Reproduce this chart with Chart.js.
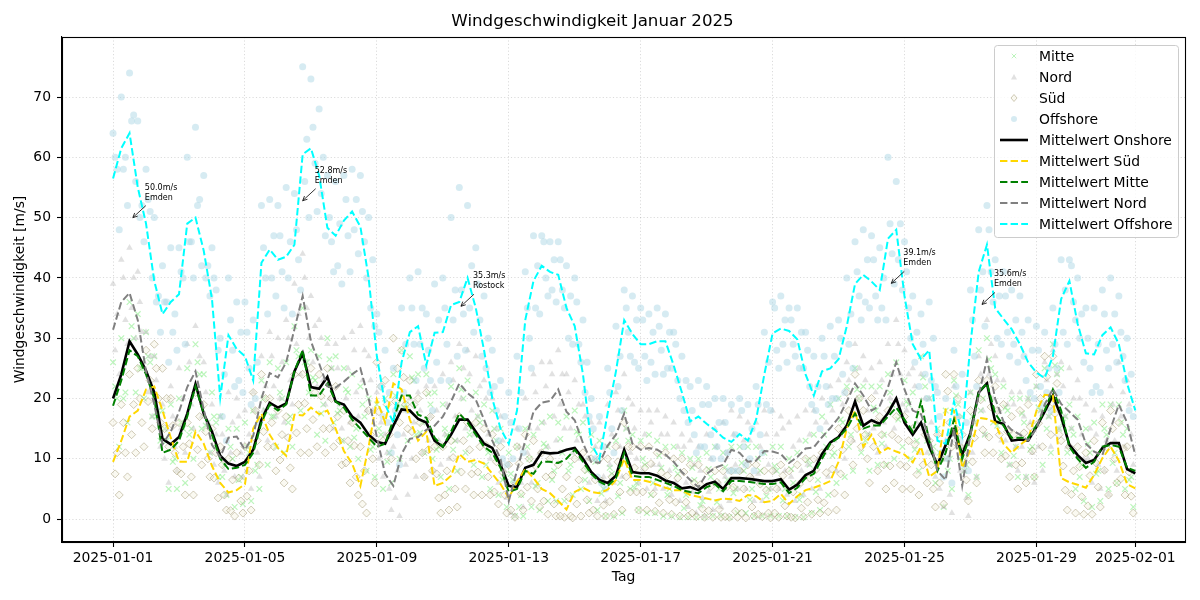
<!DOCTYPE html>
<html>
<head>
<meta charset="utf-8">
<script src="https://cdn.jsdelivr.net/npm/chart.js@4.4.1/dist/chart.umd.min.js"></script>
<style>
html,body{margin:0;padding:0;background:#fff;}
#wrap{width:1200px;height:600px;}
</style>
</head>
<body>
<div id="wrap"><canvas id="c" width="1200" height="600"></canvas></div>
<script>
// ---- data (6-hour steps starting 2025-01-01 00:00) ----
const stepHours = 6;
const tickDays = [0, 4, 8, 12, 16, 20, 24, 28, 31];
const tickLabels = ['2025-01-01','2025-01-05','2025-01-09','2025-01-13','2025-01-17','2025-01-21','2025-01-25','2025-01-29','2025-02-01'];

const meanOnshore = [20,24,29.5,27.3, 24.6,21,13.3,12.4, 13.6,17.5,22.4,17.5, 14.5,10.5,9.2,8.8, 9.5,11.5,16.5,19.3, 18.5,19.2,24.5,27.5, 21.9,21.6,23.6,19.5, 19,17,16,14, 12.8,12.5,15.5,18.2, 18,16.6,16,13, 12,14,16.5,16.5, 14.5,12.5,11.8,9, 5.5,5.3,8.5,9, 11.1,10.9,11,11.5, 11.8,10,7.8,6.5, 6,7.2,11.5,7.8, 7.6,7.6,7.2,6.4, 6,5.1,5.3,4.8, 5.8,6.2,5,6.8, 6.8,6.7,6.5,6.3, 6.3,6.6,4.9,5.7, 7.3,8,10.8,12.7, 13.6,15.5,19.5,15.5, 16.4,15.8,17.6,20, 16,14,16,12, 9,12.3,14.8,10.7, 14.3,21,22.5,16.2, 15.8,13,13.2,13, 15.3,17.8,20.5,17, 12.3,10.6,9.3,9.8, 11.8,12.6,12.6,8.3, 7.6];
const meanSued = [9.5,13,17,18, 21.5,22,18,13.5, 9.5,9.5,14.5,12.5, 8.8,6,4.4,4.8, 5.8,15,17.5,14, 11.8,10.5,17.3,17.2, 18.5,17.4,18,15, 11.3,9.2,5.5,12, 19.8,16,22.5,21.5, 16.5,13,14.5,5.5, 6,7.2,10.8,9.5, 9.8,9.2,7.5,5.8, 3.5,6.2,8.3,6.8, 5,4.3,3,1.6, 4.5,5.2,4.5,4.3, 4.9,6.5,10,6.5, 6.5,6.2,5.7,5.2, 4.8,4.8,4,3.7, 3.4,3.1,3.4,3.3, 3,4,3.8,2.8, 3,4.2,2.5,3.8, 4.8,5.2,5.7,6.3, 9.5,15,18,12, 14,11,11.8,11.2, 10.7,9.4,12,7, 8,18.2,18,8.5, 11.5,16.8,16.6,16, 12.5,11,12.3,13.3, 17.9,20.6,20.5,6.8, 6.1,5.7,5.2,7.3, 10.1,12,9.7,5.8, 5.1];
const meanMitte = [18.8,23,28,27, 24,20,11,11.5, 13,17,22,17.5, 14,10,8.3,8.5, 9,11,16,19, 18,19,24.5,28, 20.5,20.5,22.5,19.5, 18.5,16.5,15,13.5, 12,12.5,16.5,20.5, 20.5,17.3,16.8,13.5, 12,14.5,17.5,16, 14,12,11,8.5, 4.5,5,8,7.5, 9.5,9.5,9.3,10, 11.5,9.5,7.5,6.2, 5.5,6.8,11,7.2, 7,7,6.5,6, 5.5,4.8,4.5,4.3, 5.3,5.8,4.6,6.3, 6.3,6.2,6,5.8, 5.8,6.1,4.3,5.2, 6.8,7.5,10,12.5, 13.5,15,17.5,15, 15.5,15.5,17,18.5, 16.5,14.5,19.5,13, 8,11,16.5,10, 14,21,22.5,17.5, 15.5,13.5,13.5,13.5, 15.5,18,21.5,18, 12,10,8.5,9.5, 12,12.3,12,8.5, 8];
const meanNord = [31.4,36,37.5,33, 24.5,19,12.4,14.5, 17.8,21.9,24.5,18.2, 12.3,10.3,13.5,13.7, 11.5,13.8,20,24.2, 23.5,26,31.5,37, 29.5,25.8,22,21.8, 22.8,24,25,20, 13.6,7.5,5.5,10.8, 13.3,13.6,14.8,15.5, 17,19.5,22.5,20.9, 19.8,16.5,13,10, 3,8.1,13,17.8, 19.3,19.6,21.5,17.8, 16.4,12.6,9.5,9.3, 12.2,14,17.5,12.5, 11.5,11.8,11.5,10.7, 9.5,7.8,6.5,5.3, 7.5,8.5,9,11.5, 11,9.5,9.7,11.3, 11.2,10.8,9.3,10.3, 11.7,11.9,13.6,15.1, 16.8,19.5,22.5,20.5, 18,18.8,21.9,26, 21.5,18,17.4,13.5, 8,6.5,15,5.5, 14,20.5,26.5,20, 16.2,14.8,14,13, 15,19,21.6,19.1, 17.8,16.5,12.5,11.2, 10.6,15,19,16, 10.6];
const meanOffshore = [56.5,61.5,64,55, 49,39.5,34,36, 37.3,49,50,44.5, 36.5,20.1,30.5,28.2, 27,23,42.5,44.7, 43,43.5,45.5,60.5, 61.5,57,48.3,47, 49.5,51,48.5,40, 27,19,16,26, 31,32,25.5,30.9, 31,35.5,36,40, 35,28,20,15, 12.5,18,33,39.5, 42,41,40.5,35, 32,24,12.5,10, 17.6,24.5,33,30.7, 29,29,29.5,29.5, 25.5,21,16.2,17, 15.8,14.8,13.5,12.8, 14.1,13,16.5,24, 30.8,31.6,31.2,29.8, 24,20.5,24.5,25, 26.5,32,39,40.5, 39.4,38,46.5,48, 37,29,26.5,28, 13,12.5,19.5,14, 29,41,45.5,35, 33.2,31.5,29,26, 24.3,23.4,27,36.5, 39.5,32.4,27.5,27.3, 30.5,31.8,29,22.5, 18];

// individual station readings (four stations per region, same 6-hour steps)
const offshoreHigh = [64,70,74,66, 58,50,42,45, 45,60,65,57, 45,30,40,36, 36,33,52,53, 52,55,54,75, 73,68,57,56, 57,58,57,50, 34,28,25,35, 40,41,34,39, 40,50,55,52, 45,37,28,23, 21,27,41,47, 47,46,46,42, 40,33,20,17, 25,32,38,37, 35,34,35,34, 31,27,22,23, 22,20,20,19, 20,19,22,31, 36,37,35,35, 31,27,30,32, 33,40,46,48, 47,45,60,56, 46,37,34,36, 21,20,28,24, 38,48,52,43, 41,38,37,33, 32,31,35,43, 43,40,35,35, 38,40,37,30, 26];
const offshoreMid = [58,60,67,52, 51,37,36,34, 40,46,53,42, 38,24,28,31, 25,26,40,47, 41,46,43,63, 59,60,46,49, 47,53,46,43, 22,21,14,29, 29,35,23,33, 29,38,34,42, 33,30,18,17, 10,21,30,42, 40,43,38,37, 29,26,10,12, 15,27,31,33, 27,31,28,31, 23,23,14,19, 14,16,11,14, 12,15,14,26, 28,33,29,31, 22,22,22,27, 24,34,37,43, 37,40,44,49, 35,31,24,30, 11,14,17,16, 27,41,41,37, 31,33,27,28, 22,25,25,38, 36,34,25,29, 28,34,27,24, 16];
const offshoreLow = [48,52,56,46, 40,31,26,28, 29,40,42,37, 28,13,22,21, 19,16,34,37, 35,34,38,50, 51,47,41,39, 41,44,40,32, 17,11,9,18, 23,25,18,23, 23,27,28,31, 27,21,13,9, 6,11,25,34, 37,36,35,29, 26,17,7,5, 11,18,27,25, 23,24,24,25, 20,16,11,12, 10,10,8,8, 9,8,11,18, 25,26,27,25, 19,15,19,20, 21,25,33,35, 33,33,39,38, 30,22,20,22, 7,6,13,8, 22,32,36,29, 27,26,23,20, 19,18,21,29, 33,26,21,21, 25,26,23,17, 13];
const offshoreAlt = [60,58,66,50, 53,36,36,31, 41,46,52,40, 40,17,33,23, 31,20,45,40, 47,40,48,56, 65,54,50,42, 53,48,51,35, 31,16,18,21, 35,29,28,26, 35,33,38,35, 39,25,22,10, 16,15,35,35, 46,38,43,30, 36,21,15,6, 21,22,35,26, 33,26,32,25, 29,18,18,12, 19,12,16,8, 18,10,19,19, 35,29,33,25, 28,18,27,20, 30,29,41,36, 43,35,49,43, 41,26,29,23, 17,10,22,9, 33,38,48,30, 37,29,31,21, 28,21,29,31, 42,30,30,22, 34,29,31,18, 22];
const nordHigh = [39,43,45,41, 31,27,19,22, 25,29,32,26, 19,17,21,20, 18,21,27,31, 30,33,39,44, 37,33,29,29, 30,31,32,27, 21,14,12,18, 20,21,22,22, 24,26,29,28, 27,23,20,17, 9,15,20,24, 26,26,28,24, 23,19,16,16, 19,21,24,19, 18,18,18,17, 16,14,13,12, 14,15,16,18, 17,16,16,18, 18,17,16,17, 18,18,20,22, 23,26,29,27, 25,26,29,33, 28,25,24,20, 14,13,22,12, 21,27,33,27, 23,21,21,20, 22,26,28,26, 25,23,19,18, 17,22,26,23, 17];
const nordMid = [34,33,40,31, 27,17,15,12, 20,19,27,16, 14,8,16,11, 14,11,22,22, 26,23,34,35, 32,23,25,19, 25,21,28,18, 16,5,8,9, 16,11,17,13, 19,17,25,18, 22,14,15,8, 5,6,15,15, 22,17,24,15, 19,10,12,7, 14,12,20,10, 14,9,14,8, 12,6,9,3.5, 10,6,11,9, 13,7,12,9, 14,8,12,8, 14,10,16,13, 19,17,25,18, 21,16,24,24, 24,16,20,11, 10,4,17,3.5, 16,18,29,18, 19,12,17,11, 18,17,24,17, 20,14,15,9, 13,13,21,14, 13];
const nordLow = [24,29,30,26, 17,12,6,8, 11,15,17,11, 6,4,7,7, 5,7,13,17, 16,19,24,30, 22,19,15,15, 16,17,18,13, 7,1.5,0.5,4, 7,7,8,9, 10,13,15,14, 13,10,6,3.5, 0.5,2,6,11, 12,13,15,11, 10,6,3,3, 6,7,11,6, 5,5,5,4, 3,2,1,0.5, 1.5,2,3,5, 5,3,3,5, 5,4,3,4, 5,5,7,8, 10,13,16,14, 11,12,15,19, 15,11,11,7, 2,1,8,0.5, 7,14,20,13, 9,8,7,6, 8,12,15,12, 11,10,6,5, 4,8,12,9, 4];
const nordAlt = [28,40,35,36, 21,23,10,17, 15,26,22,21, 9,14,11,17, 8,18,18,27, 20,30,29,40, 26,30,20,25, 20,28,23,23, 10,11,3.5,14, 10,18,13,18, 14,23,20,24, 17,20,11,13, 1,12,11,21, 16,24,19,21, 13,17,7,12, 9,18,15,15, 8,16,9,14, 6,12,4.5,8, 4.5,12,7,14, 8,13,7.5,14, 8,15,7,13, 9,16,11,18, 14,23,20,23, 15,23,20,29, 18,22,15,16, 5,10,13,8, 11,24,24,23, 13,19,12,16, 12,23,19,22, 15,20,10,14, 8,19,17,19, 8];
const mitteHigh = [26,30,36,34, 31,27,18,19, 20,25,29,24, 21,17,15,15, 16,18,23,26, 25,26,32,35, 28,27,30,27, 25,24,22,20, 19,20,24,28, 27,24,24,21, 19,22,25,23, 21,19,18,15, 11,12,15,14, 16,17,16,17, 18,16,14,13, 12,13,18,14, 13,14,13,12, 12,11,10,10, 11,12,11,12, 12,12,12,11, 12,12,10,11, 13,14,17,19, 20,22,25,22, 22,22,24,26, 23,21,27,20, 15,18,23,17, 21,28,30,24, 22,20,20,20, 22,25,29,25, 19,17,15,16, 19,19,19,15, 14];
const mitteMid = [20,21,30,25, 26,18,13,10, 15,15,24,16, 16,9,10,7, 11,9,18,17, 20,17,27,26, 23,19,25,18, 21,15,17,12, 14,11,19,19, 23,16,19,12, 14,13,20,15, 16,11,13,7, 6.5,4,10,6, 12,8,11,9, 14,8,9.5,5, 7.5,6,13,6, 9,6,8.5,5, 7.5,4,6.5,3, 7,5,6.5,5, 8,5,8,5, 8,5,6,4, 9,6.5,12,11, 16,14,20,14, 18,14,19,17, 19,13,22,12, 10,10,19,9, 16,20,25,16, 18,12,16,12, 18,17,24,17, 14,9,11,8, 14,11,14,7, 10];
const mitteLow = [12,16,21,20, 17,13,5,5, 6,10,15,11, 7,4,2,2.5, 3,5,9,12, 11,12,18,21, 14,13,16,13, 12,10,8,7, 5,6,10,13, 14,11,10,7, 5,8,11,9, 7,5,4,2, 0.5,0.5,2,1.5, 3,3,3,4, 5,3,1.5,0.5, 0.5,1,5,1.5, 1,1,0.5,0.5, 0.3,0.3,0.3,0.3, 0.5,0.5,0.3,1, 1,0.5,0.5,0.5, 0.5,0.5,0.3,0.3, 1,1.5,4,6, 7,8,11,8, 9,9,10,12, 10,8,13,6, 2,5,10,4, 7,14,16,11, 9,7,7,7, 9,11,15,11, 5,3,2,3, 5,6,5,2, 2];
const mitteAlt = [22,20,32,25, 27,17,15,9.5, 16,14,26,15.5, 17,7,12,6.5, 12,8,20,17, 21,16,28,26, 23.5,17.5,26.5,17.5, 21.5,13.5,19,11.5, 15,9.5,20.5,18.5, 23.5,14.3,20.8,11.5, 15,11.5,21.5,14, 17,9,15,6.5, 7.5,2,12,5.5, 12.5,6.5,13.3,8, 14.5,6.5,11.5,4.2, 8.5,3.8,15,5.2, 10,4,10.5,4, 8.5,1.8,8.5,2.3, 8.3,2.8,8.6,4.3, 9.3,3.2,10,3.8, 8.8,3.1,8.3,3.2, 9.8,4.5,14,10.5, 16.5,12,21.5,13, 18.5,12.5,21,16.5, 19.5,11.5,23.5,11, 11,8,20.5,8, 17,18,26.5,15.5, 18.5,10.5,17.5,11.5, 18.5,15,25.5,16, 15,7,12.5,7.5, 15,9.3,16,6.5, 11];
const suedHigh = [16,19,24,25, 28,29,25,20, 16,16,21,19, 15,12,10,11, 12,21,24,20, 18,17,24,24, 25,24,25,22, 18,16,12,18, 26,23,30,28, 23,20,21,12, 12,13,17,16, 16,15,14,12, 9,12,14,13, 11,10,9,7, 10,11,10,10, 10,12,16,12, 12,12,11,11, 10,10,9,9, 8,8,8,8, 8,9,9,8, 8,9,8,9, 10,10,11,12, 15,21,24,18, 20,17,18,17, 17,15,18,13, 14,24,24,14, 18,23,23,22, 19,17,18,19, 24,27,27,13, 12,12,11,13, 16,18,16,12, 11];
const suedMid = [11,11,19,16, 23,20,20,11, 12,7,17,10, 11,4,6.5,3, 8,13,20,12, 14,8.5,19,15, 21,15,20,13, 13,7,8,10, 22,14,25,19, 19,11,17,3.5, 8,5,13,7.5, 12,7,9.5,4, 5.5,4.2,10,5, 7,2.5,5,0.5, 6.5,3.2,6.5,2.3, 7,4.5,12,4.5, 8.5,4.2,7.7,3.2, 6.8,2.8,6,1.7, 5.4,1.6,5.4,1.3, 5,2,5.8,1, 5,2.2,4.5,1.8, 6.8,3.2,7.7,4.3, 11.5,13,20,10, 16,9,14,9, 13,7.4,14,5, 10,16,20,6.5, 13.5,14.8,18.6,14, 14.5,9,14.3,11.3, 20,18.6,22.5,4.8, 8,3.7,7.2,5.3, 12,10,11.7,3.8, 6];
const suedLow = [4,7,11,12, 15,16,12,8, 4,4,9,7, 3.5,1.5,0.5,1, 1.5,9,12,8, 6,5,11,11, 12,11,12,9, 6,4,1,6, 13,10,16,15, 10,7,8,1, 1.5,2,5,4, 4,4,2.5,1, 0.3,1.5,3,2, 0.8,0.5,0.3,0.2, 0.5,1,0.5,0.5, 0.8,1.5,4.5,1.5, 1.5,1.3,1,0.8, 0.5,0.5,0.4,0.3, 0.3,0.3,0.3,0.3, 0.2,0.5,0.4,0.2, 0.3,0.5,0.2,0.4, 0.8,1,1.2,1.5, 4,9,12,6, 8,5,6,5, 5,4,6,2, 2.5,12,12,3, 6,11,11,10, 7,5,6,7, 12,14,14,1.5, 1,0.8,0.8,2, 4,6,4,1, 0.8];
const suedAlt = [7.5,16,14,20, 19.5,25,15,15.5, 7.5,12.5,11.5,14.5, 6.8,9,1.4,6.8, 3.8,18,14.5,16, 9.8,13.5,14.3,19.2, 16.5,20.4,15,17, 9.3,12.2,2.5,14, 17.8,19,19.5,23.5, 14.5,16,11.5,7.5, 4,10.2,7.8,11.5, 7.8,12.2,4.5,7.8, 1.5,9.2,5.3,8.8, 3,7.3,0.5,3.6, 2.5,8.2,1.5,6.3, 2.9,9.5,7,8.5, 4.5,9.2,2.7,7.2, 2.8,7.8,1,5.7, 1.4,6.1,0.4,5.3, 1,7,0.8,4.8, 1,7.2,0.3,5.8, 2.8,8.2,2.7,8.3, 7.5,18,15,14, 12,14,8.8,13.2, 8.7,12.4,9,9, 6,21.2,15,10.5, 9.5,19.8,13.6,18, 10.5,14,9.3,15.3, 15.9,23.6,17.5,8.8, 4.1,8.7,2.2,9.3, 8.1,15,6.7,7.8, 3.1];
const stationOffsetHours = [0, 3, 4.5, 1.5];

const annotDays = [0.6, 5.75, 10.55, 23.6, 26.35];
const annotValues = [50.0, 52.8, 35.3, 39.1, 35.6];
const annotStations = ['Emden', 'Emden', 'Rostock', 'Emden', 'Emden'];

// ---- build chart data from the arrays ----
const lastDay = 30.96;
function lineData(values) {
  return values.map((v, i) => ({x: i * stepHours / 24, y: v}));
}
function cloudData(rows) {
  const pts = [];
  rows.forEach((row, k) => row.forEach((v, i) => {
    const x = (i * stepHours + stationOffsetHours[k]) / 24;
    if (x <= lastDay) pts.push({x: x, y: v});
  }));
  return pts;
}
const dashPattern = [7.4, 3.2];

const datasets = [
  {label: 'Mitte', data: cloudData([mitteHigh, mitteMid, mitteLow, mitteAlt]), pointStyle: 'crossRot', pointRadius: 4,
   borderColor: 'rgba(144,238,144,0.6)', backgroundColor: 'rgba(144,238,144,0.6)', borderWidth: 1.2, order: 9},
  {label: 'Nord', data: cloudData([nordHigh, nordMid, nordLow, nordAlt]), pointStyle: 'triangle', pointRadius: 3.8,
   borderColor: 'rgba(195,195,195,0.5)', backgroundColor: 'rgba(195,195,195,0.5)', borderWidth: 0, order: 8},
  {label: 'Süd', data: cloudData([suedHigh, suedMid, suedLow, suedAlt]), pointStyle: 'rectRot', pointRadius: 4,
   borderColor: 'rgba(150,140,100,0.45)', backgroundColor: 'rgba(240,235,210,0.3)', borderWidth: 1, order: 7},
  {label: 'Offshore', data: cloudData([offshoreHigh, offshoreMid, offshoreLow, offshoreAlt]), pointStyle: 'circle', pointRadius: 3.5,
   borderColor: 'rgba(173,216,230,0.5)', backgroundColor: 'rgba(173,216,230,0.5)', borderWidth: 0, order: 6},
  {label: 'Mittelwert Onshore', data: lineData(meanOnshore), showLine: true, pointRadius: 0, borderColor: '#000000',
   borderWidth: 2.6, borderDash: [], order: 5},
  {label: 'Mittelwert Süd', data: lineData(meanSued), showLine: true, pointRadius: 0, borderColor: '#FFD700',
   borderWidth: 2, borderDash: dashPattern, order: 4},
  {label: 'Mittelwert Mitte', data: lineData(meanMitte), showLine: true, pointRadius: 0, borderColor: '#008000',
   borderWidth: 2, borderDash: dashPattern, order: 3},
  {label: 'Mittelwert Nord', data: lineData(meanNord), showLine: true, pointRadius: 0, borderColor: '#808080',
   borderWidth: 2, borderDash: dashPattern, order: 2},
  {label: 'Mittelwert Offshore', data: lineData(meanOffshore), showLine: true, pointRadius: 0, borderColor: '#00FFFF',
   borderWidth: 2, borderDash: dashPattern, order: 1}
];
datasets.forEach(d => { d.tension = 0; d.pointHoverRadius = 0; d.fill = false; });

const FONT = "'DejaVu Sans', 'Liberation Sans', sans-serif";
Chart.defaults.font.family = FONT;
Chart.defaults.color = '#000';

// frame + annotations
const framePlugin = {
  id: 'frame',
  afterDatasetsDraw(chart) {
    const {ctx, chartArea: a, scales: {x, y}} = chart;
    ctx.save();
    ctx.font = '8px ' + FONT;
    ctx.fillStyle = '#000';
    ctx.strokeStyle = '#000';
    ctx.lineWidth = 0.8;
    ctx.textBaseline = 'alphabetic';
    annotDays.forEach((d, i) => {
      const px = x.getPixelForValue(d), py = y.getPixelForValue(annotValues[i]);
      ctx.fillText(annotValues[i].toFixed(1) + 'm/s', px + 12, py - 28);
      ctx.fillText(annotStations[i], px + 12, py - 18);
      const sx = px + 13, sy = py - 12;
      ctx.beginPath(); ctx.moveTo(sx, sy); ctx.lineTo(px, py); ctx.stroke();
      const ang = Math.atan2(py - sy, px - sx), hl = 5;
      ctx.beginPath();
      ctx.moveTo(px - hl * Math.cos(ang - 0.45), py - hl * Math.sin(ang - 0.45));
      ctx.lineTo(px, py);
      ctx.lineTo(px - hl * Math.cos(ang + 0.45), py - hl * Math.sin(ang + 0.45));
      ctx.stroke();
    });
    ctx.strokeStyle = '#000';
    ctx.lineWidth = 1.1;
    ctx.strokeRect(Math.round(a.left) + 0.5, Math.round(a.top) + 0.5, Math.round(a.right - a.left), Math.round(a.bottom - a.top));
    ctx.restore();
  }
};

const legendPlugin = {
  id: 'mplLegend',
  afterDraw(chart) {
    const {ctx, chartArea: a} = chart;
    const w = 184, h = 192;
    const bx = Math.round(a.right - 7 - w), by = Math.round(a.top + 8);
    ctx.save();
    ctx.beginPath();
    ctx.roundRect(bx + 0.5, by + 0.5, w, h, 3);
    ctx.fillStyle = 'rgba(255,255,255,0.8)';
    ctx.fill();
    ctx.strokeStyle = '#cccccc';
    ctx.lineWidth = 1;
    ctx.stroke();
    chart.data.datasets.forEach((ds, i) => {
      const cy = by + 11 + i * 21;
      const mx = bx + 20;
      ctx.setLineDash([]);
      if (ds.showLine) {
        ctx.strokeStyle = ds.borderColor;
        ctx.lineWidth = ds.borderWidth;
        ctx.setLineDash(ds.borderDash || []);
        ctx.beginPath(); ctx.moveTo(bx + 6, cy); ctx.lineTo(bx + 34, cy); ctx.stroke();
        ctx.setLineDash([]);
      } else {
        ctx.fillStyle = ds.backgroundColor;
        ctx.strokeStyle = ds.borderColor;
        ctx.lineWidth = 1;
        const r = 3;
        ctx.beginPath();
        if (ds.pointStyle === 'crossRot') {
          ctx.moveTo(mx - r * 0.75, cy - r * 0.75); ctx.lineTo(mx + r * 0.75, cy + r * 0.75);
          ctx.moveTo(mx - r * 0.75, cy + r * 0.75); ctx.lineTo(mx + r * 0.75, cy - r * 0.75);
          ctx.stroke();
        } else if (ds.pointStyle === 'triangle') {
          ctx.moveTo(mx, cy - r); ctx.lineTo(mx + r, cy + r * 0.8); ctx.lineTo(mx - r, cy + r * 0.8); ctx.closePath();
          ctx.fill();
        } else if (ds.pointStyle === 'rectRot') {
          ctx.moveTo(mx, cy - r - 0.5); ctx.lineTo(mx + r, cy); ctx.lineTo(mx, cy + r + 0.5); ctx.lineTo(mx - r, cy); ctx.closePath();
          ctx.fill(); ctx.stroke();
        } else {
          ctx.arc(mx, cy, r, 0, Math.PI * 2);
          ctx.fill();
        }
      }
      ctx.fillStyle = '#000';
      ctx.font = '13.9px ' + FONT;
      ctx.textBaseline = 'middle';
      ctx.textAlign = 'left';
      ctx.fillText(ds.label, bx + 45, cy + 1);
    });
    ctx.restore();
  }
};

new Chart(document.getElementById('c'), {
  type: 'scatter',
  data: {datasets: datasets},
  plugins: [framePlugin, legendPlugin],
  options: {
    responsive: false,
    animation: false,
    events: [],
    layout: {padding: {left: 0, right: 15, top: 0, bottom: 0}},
    plugins: {
      legend: {display: false},
      tooltip: {enabled: false},
      title: {display: true, text: 'Windgeschwindigkeit Januar 2025', color: '#000',
        font: {size: 16.67, weight: 'normal', family: FONT}, padding: {top: 12, bottom: 5}}
    },
    scales: {
      x: {
        type: 'linear', min: -1.548, max: 32.506,
        afterBuildTicks(scale) { scale.ticks = tickDays.map(v => ({value: v})); },
        afterFit(scale) { scale.height = 58; },
        ticks: {autoSkip: false, maxRotation: 0, padding: 3, color: '#000',
          font: {size: 13.9, family: FONT},
          callback(value) { const k = tickDays.indexOf(value); return k >= 0 ? tickLabels[k] : ''; }},
        grid: {color: 'rgba(0,0,0,0.18)', lineWidth: 0.8, tickColor: '#000', tickLength: 5, tickWidth: 1.1},
        border: {display: true, color: '#000', width: 1.1, dash: [1.2, 2.2]},
        title: {display: true, text: 'Tag', color: '#000', font: {size: 13.9, family: FONT}, padding: {top: 0, bottom: 14.7}}
      },
      y: {
        type: 'linear', min: -3.8, max: 79.95,
        afterBuildTicks(scale) { scale.ticks = [0,10,20,30,40,50,60,70].map(v => ({value: v})); },
        afterFit(scale) { scale.width = 62; },
        ticks: {padding: 6, color: '#000', font: {size: 13.9, family: FONT}},
        grid: {color: 'rgba(0,0,0,0.18)', lineWidth: 0.8, tickColor: '#000', tickLength: 5, tickWidth: 1.1},
        border: {display: true, color: '#000', width: 1.1, dash: [1.2, 2.2]},
        title: {display: true, text: 'Windgeschwindigkeit [m/s]', color: '#000', font: {size: 13.9, family: FONT}, padding: {top: 11.7, bottom: 0}}
      }
    }
  }
});
</script>
</body>
</html>
